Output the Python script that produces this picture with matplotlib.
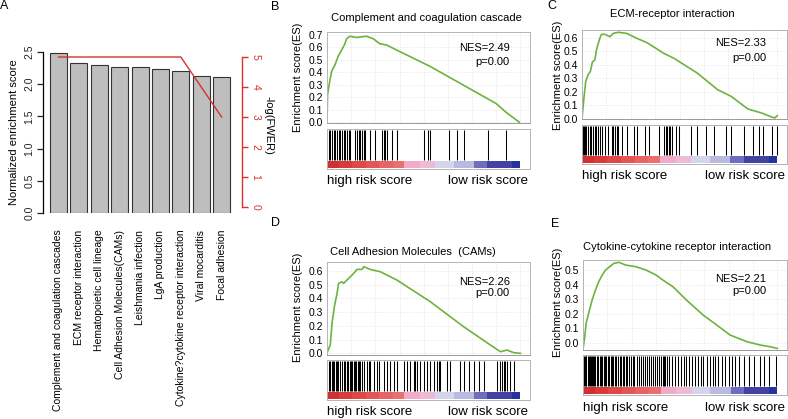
import numpy as np
import matplotlib
matplotlib.use("Agg")
import matplotlib.pyplot as plt
from matplotlib.patches import Rectangle

plt.rcParams['font.family'] = ['Liberation Sans', 'DejaVu Sans']

# ---- panel A data ----
pathways = ["Complement and coagulation cascades", "ECM receptor interaction",
            "Hematopoietic cell lineage", "Cell Adhesion Molecules(CAMs)",
            "Leishmania infection", "LgA production",
            "Cytokine?cytokine receptor interaction", "Viral mocarditis",
            "Focal adhesion"]
nes = [2.49, 2.33, 2.30, 2.26, 2.26, 2.24, 2.21, 2.13, 2.11]
neg_log_fwer = [5, 5, 5, 5, 5, 5, 5, 4, 3]

# ---- GSEA running enrichment scores (x = rank fraction) ----
b_x = [0, 0.003, 0.012, 0.024, 0.041, 0.058, 0.076, 0.093, 0.101, 0.119, 0.153,
       0.204, 0.239, 0.273, 0.308, 0.359, 0.531, 0.703, 0.875, 0.926, 0.995]
b_es = [0.0, 0.22, 0.31, 0.41, 0.46, 0.53, 0.58, 0.63, 0.67, 0.69, 0.68,
        0.69, 0.67, 0.63, 0.62, 0.58, 0.45, 0.30, 0.15, 0.08, 0.0]

c_x = [0, 0.009, 0.019, 0.031, 0.043, 0.053, 0.066, 0.074, 0.091, 0.1, 0.117,
       0.143, 0.16, 0.186, 0.229, 0.281, 0.333, 0.419, 0.471, 0.591, 0.695,
       0.764, 0.85, 0.919, 0.971, 0.988, 1.0]
c_es = [0.0, 0.14, 0.275, 0.325, 0.35, 0.42, 0.435, 0.51, 0.595, 0.625, 0.625,
        0.607, 0.632, 0.64, 0.632, 0.595, 0.563, 0.484, 0.447, 0.337, 0.214,
        0.165, 0.071, 0.042, 0.012, 0.005, 0.022]

d_x = [0, 0.009, 0.017, 0.026, 0.038, 0.052, 0.06, 0.078, 0.086, 0.103, 0.121,
       0.138, 0.155, 0.181, 0.19, 0.224, 0.276, 0.362, 0.534, 0.707, 0.845,
       0.897, 0.931, 0.966, 1.0]
d_es = [0.0, 0.036, 0.061, 0.219, 0.34, 0.437, 0.51, 0.522, 0.51, 0.534, 0.559,
        0.583, 0.612, 0.612, 0.632, 0.612, 0.595, 0.534, 0.377, 0.194, 0.061,
        0.012, 0.024, 0.005, 0.0]

e_x = [0, 0.009, 0.016, 0.029, 0.047, 0.064, 0.081, 0.099, 0.116, 0.133, 0.159,
       0.185, 0.22, 0.272, 0.324, 0.376, 0.411, 0.463, 0.532, 0.619, 0.688,
       0.757, 0.844, 0.913, 0.965, 1.0]
e_es = [-0.046, 0.041, 0.133, 0.202, 0.294, 0.362, 0.42, 0.466, 0.5, 0.518, 0.546,
        0.553, 0.534, 0.523, 0.5, 0.466, 0.431, 0.385, 0.294, 0.19, 0.122,
        0.053, 0.007, -0.016, -0.028, -0.039]

# ---- gene set hit positions (rank percent) ----
b_hits = [0.9, 1.7, 2.6, 3.4, 4.3, 5.2, 6.0, 6.9, 7.8, 8.6, 9.5, 10.3, 11.2, 12.1,
          14.7, 15.5, 16.4, 17.2, 18.1, 19.0, 19.8, 22.4, 25.0, 28.4, 29.3, 30.2,
          31.0, 33.6, 36.2, 50.0, 52.2, 53.4, 62.9, 67.2, 70.7, 83.1, 92.6]
c_hits = [0, 0.5, 1.0, 1.7, 2.2, 3.1, 4.0, 4.8, 5.7, 6.6, 7.4, 8.3, 9.1, 10.0,
          11.7, 13.4, 15.2, 16.0, 16.9, 17.8, 18.6, 20.3, 22.9, 26.4, 28.1, 32.4,
          34.1, 39.3, 41.9, 42.8, 43.6, 44.5, 45.3, 46.2, 47.9, 49.7, 55.7, 59.1,
          63.4, 67.6, 73.8, 76.4, 83.1, 87.8, 90.9, 92.9, 97.1, 99.7]
d_hits = [0.9, 1.7, 2.6, 3.1, 3.8, 4.5, 5.2, 5.9, 6.9, 7.6, 8.6, 9.5, 10.3, 11.0,
          11.7, 12.4, 13.1, 13.8, 14.5, 15.2, 15.9, 16.6, 17.2, 18.1, 19.0, 20.7,
          21.6, 22.4, 24.1, 25.9, 26.7, 29.3, 31.0, 32.8, 34.5, 36.2, 39.7, 41.4,
          43.1, 44.8, 45.7, 46.6, 48.3, 50.0, 51.7, 53.4, 55.2, 56.9, 57.8, 58.6,
          62.1, 63.8, 69.0, 70.7, 73.3, 75.9, 78.4, 81.0, 87.9, 89.7, 90.5, 91.4,
          92.2, 93.1, 94.8, 96.6]
e_hits = [0.3, 0.9, 1.3, 1.8, 2.4, 2.9, 3.5, 4.0, 4.7, 5.2, 5.9, 6.4, 7.1, 7.8,
          8.5, 9.2, 9.9, 10.6, 11.3, 12.0, 12.7, 13.3, 14.2, 14.9, 15.6, 16.5,
          17.2, 18.0, 18.9, 19.6, 20.5, 21.3, 22.0, 22.9, 23.7, 24.6, 25.5, 26.5,
          27.6, 28.6, 29.6, 30.7, 31.7, 32.8, 33.8, 34.8, 35.9, 36.9, 38.1, 39.3,
          40.4, 41.4, 41.8, 42.3, 43.2, 44.5, 45.9, 47.3, 48.9, 50.6, 51.8, 53.2,
          54.6, 56.3, 57.9, 59.3, 60.5, 61.9, 63.6, 65.3, 66.7, 68.1, 69.7, 71.4,
          73.1, 74.9, 76.8, 78.3, 80.1, 82.7, 85.3, 87.9, 91.3, 93.1, 95.7, 99.1]

# ranked-list colour strip
cb_edges = [0, 0.06, 0.13, 0.2, 0.27, 0.34, 0.40, 0.48, 0.56, 0.655, 0.76, 0.83, 0.957, 1.0]
cb_colors = ['#d42f2f', '#da3a3a', '#e04848', '#e45656', '#e86464', '#ea7070',
             '#f2aac8', '#eebad6', '#d4d4ec', '#babae0', '#6e6ec0', '#4343a3', '#2433a0']

W, H = 788, 419
fig = plt.figure(figsize=(W / 100, H / 100), dpi=100)


def box(l, t, r, b):
    return [l / W, 1 - b / H, (r - l) / W, (b - t) / H]


def ftext(x, y, s, **kw):
    fig.text(x / W, 1 - y / H, s, **kw)


# ================= panel A =================
ax = fig.add_axes(box(43, 52, 242, 213))
xs = np.arange(len(nes))
ax.bar(xs, nes, width=0.833, color='#bebebe', edgecolor='#333333', linewidth=0.8)
ax.set_xlim(-0.76, 9.0)
ax.set_ylim(0, 2.5)
for s in ['top', 'right', 'bottom']:
    ax.spines[s].set_visible(False)
ax.spines['left'].set_bounds(0, 2.5)
ax.spines['left'].set_linewidth(0.9)
ax.set_yticks([0, 0.5, 1.0, 1.5, 2.0, 2.5])
ax.set_yticklabels(['0.0', '0.5', '1.0', '1.5', '2.0', '2.5'], rotation=90, va='center', fontsize=7.5)
ax.tick_params(axis='y', length=4, width=0.9, pad=2, colors='#222222')
ax.set_xticks(xs)
ax.set_xticklabels(pathways, rotation=90, fontsize=7.5, va='top', ha='center')
ax.tick_params(axis='x', length=0, pad=12)
ax.set_ylabel('Normalized enrichment score', fontsize=8, labelpad=4)

ax2 = ax.twinx()
ax2.plot(xs, neg_log_fwer, color='#d93030', linewidth=1.0)
ax2.set_ylim(-0.2, 5.167)
for s in ['top', 'left', 'bottom']:
    ax2.spines[s].set_visible(False)
ax2.spines['right'].set_bounds(0, 5)
ax2.spines['right'].set_color('#d93030')
ax2.spines['right'].set_linewidth(1.0)
ax2.set_yticks([0, 1, 2, 3, 4, 5])
ax2.set_yticklabels(['0', '1', '2', '3', '4', '5'], rotation=-90, va='center', fontsize=7.5)
ax2.tick_params(axis='y', colors='#d93030', length=4, width=1.0, pad=2)
ftext(268, 125, '-log(FWER)', ha='center', va='center', rotation=-90, fontsize=8)

# ================= GSEA panels =================
panels = [
    dict(title='Complement and coagulation cascade', x=b_x, es=b_es, hits=b_hits,
         nes='NES=2.49', geo=(327, 530, 32, 123, 129, 169), ylim=(-0.006, 0.724),
         ticks=[0, 0.1, 0.2, 0.3, 0.4, 0.5, 0.6, 0.7], title_xy=(426, 18),
         lab_xy=(298, 77), txt_y=(0.82, 0.67), risk_y=181),
    dict(title='ECM-receptor interaction', x=c_x, es=c_es, hits=c_hits,
         nes='NES=2.33', geo=(582, 787, 30, 119, 125, 164), ylim=(-0.003, 0.657),
         ticks=[0, 0.1, 0.2, 0.3, 0.4, 0.5, 0.6], title_xy=(672, 14),
         lab_xy=(558, 75), txt_y=(0.85, 0.69), risk_y=176),
    dict(title='Cell Adhesion Molecules  (CAMs)', x=d_x, es=d_es, hits=d_hits,
         nes='NES=2.26', geo=(327, 530, 262, 355, 360, 400), ylim=(-0.012, 0.666),
         ticks=[0, 0.1, 0.2, 0.3, 0.4, 0.5, 0.6], title_xy=(413, 252),
         lab_xy=(298, 307), txt_y=(0.78, 0.67), risk_y=412),
    dict(title='Cytokine-cytokine receptor interaction', x=e_x, es=e_es, hits=e_hits,
         nes='NES=2.21', geo=(583, 787, 260, 350, 355, 395), ylim=(-0.05, 0.569),
         ticks=[0, 0.1, 0.2, 0.3, 0.4, 0.5], title_xy=(677, 247),
         lab_xy=(558, 302), txt_y=(0.79, 0.66), risk_y=408),
]

frame_col = '#b4b4b4'
for p in panels:
    l, r, t, b, ht, hb = p['geo']
    ea = fig.add_axes(box(l, t, r, b))
    ea.plot(p['x'], p['es'], color='#6cb33f', linewidth=1.2)
    ea.set_xlim(0, 1.05)
    ea.set_ylim(*p['ylim'])
    ea.set_yticks(p['ticks'])
    ea.set_yticklabels(['%.1f' % v for v in p['ticks']], fontsize=7.5)
    ea.set_xticks(np.arange(0.125, 1.05, 0.125))
    ea.set_xticklabels([])
    ea.tick_params(length=0, pad=3)
    ea.grid(True, color='#e2e2e2', linestyle=':', linewidth=0.6)
    for s in ea.spines.values():
        s.set_color(frame_col)
        s.set_linewidth(0.7)
    ea.spines['bottom'].set_color('#999999')
    ea.text(0.9, p['txt_y'][0], p['nes'], transform=ea.transAxes, ha='right', va='center', fontsize=8)
    ea.text(0.9, p['txt_y'][1], 'p=0.00', transform=ea.transAxes, ha='right', va='center', fontsize=8)

    ha_ = fig.add_axes(box(l, ht, r, hb))
    ha_.set_xlim(0, 1.05)
    ha_.set_ylim(0, 1)
    ha_.vlines(np.array(p['hits']) / 100.0, 0.22, 0.98, color='black', linewidth=0.75)
    for i, c in enumerate(cb_colors):
        ha_.add_patch(Rectangle((cb_edges[i], 0.02), cb_edges[i + 1] - cb_edges[i], 0.18,
                                facecolor=c, edgecolor='none'))
    ha_.set_xticks([])
    ha_.set_yticks([])
    for s in ha_.spines.values():
        s.set_color(frame_col)
        s.set_linewidth(0.7)

    ftext(p['title_xy'][0], p['title_xy'][1], p['title'], ha='center', va='center', fontsize=8)
    ftext(p['lab_xy'][0], p['lab_xy'][1], 'Enrichment score(ES)', ha='center', va='center',
          rotation=90, fontsize=8)
    ftext(l, p['risk_y'], 'high risk score', ha='left', va='center', fontsize=9.5)
    ftext(r - 2, p['risk_y'], 'low risk score', ha='right', va='center', fontsize=9.5)

for lab, x, y in [('A', 4.5, 6), ('B', 275, 7), ('C', 552, 6), ('D', 275, 223), ('E', 555, 224)]:
    ftext(x, y, lab, ha='center', va='center', fontsize=9)

fig.savefig('out.png', dpi=100)
